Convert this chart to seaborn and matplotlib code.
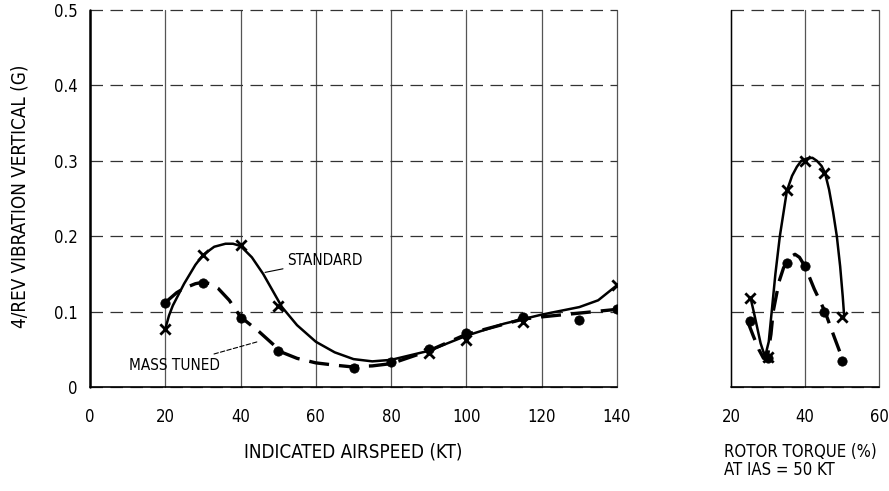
import matplotlib
matplotlib.use("Agg")
import matplotlib.pyplot as plt
import seaborn as sns
import pandas as pd

# ---- data ----
ias_std = [20, 30, 40, 50, 90, 100, 115, 140]
std_vals = [0.077, 0.175, 0.188, 0.108, 0.045, 0.062, 0.086, 0.135]
ias_mt = [20, 30, 40, 50, 70, 80, 90, 100, 115, 130, 140]
mt_vals = [0.112, 0.138, 0.091, 0.048, 0.025, 0.033, 0.050, 0.072, 0.093, 0.089, 0.103]

std_curve_x = [20, 21, 22, 25, 28, 30, 33, 36, 38, 40, 43, 46, 51, 55, 60, 65, 70, 75, 80, 90, 100, 110, 120, 130, 135, 140]
std_curve_y = [0.077, 0.095, 0.108, 0.137, 0.162, 0.175, 0.186, 0.190, 0.190, 0.187, 0.172, 0.150, 0.106, 0.082, 0.060, 0.046, 0.037, 0.034, 0.036, 0.048, 0.068, 0.084, 0.096, 0.106, 0.115, 0.135]
mt_curve_x = [20, 23, 25, 28, 30, 32, 34, 37, 40, 45, 51, 55, 60, 65, 69, 75, 80, 90, 100, 115, 120, 130, 140]
mt_curve_y = [0.112, 0.125, 0.131, 0.137, 0.139, 0.137, 0.131, 0.115, 0.093, 0.073, 0.046, 0.038, 0.032, 0.029, 0.027, 0.028, 0.031, 0.048, 0.070, 0.090, 0.093, 0.098, 0.103]

torque = [25, 30, 35, 40, 45, 50]
tq_std = [0.118, 0.040, 0.261, 0.300, 0.284, 0.093]
tq_mt = [0.087, 0.038, 0.164, 0.160, 0.100, 0.034]

tq_std_curve_x = [25.3, 26.5, 28, 29.2, 30.2, 31, 32, 33.2, 35.1, 36.5, 37.8, 39, 40.5, 42, 43.2, 44.5, 45.4, 46.5, 47.6, 48.6, 49.5, 50.2, 50.6]
tq_std_curve_y = [0.118, 0.092, 0.058, 0.040, 0.060, 0.100, 0.150, 0.200, 0.260, 0.280, 0.292, 0.300, 0.303, 0.304, 0.300, 0.293, 0.284, 0.262, 0.232, 0.200, 0.160, 0.120, 0.093]
tq_mt_curve_x = [24.5, 26, 27.5, 28.8, 30, 30.8, 31.4, 33, 34.2, 35.1, 36.2, 37.3, 38.5, 40, 42.5, 45.4, 48, 50.3]
tq_mt_curve_y = [0.087, 0.068, 0.050, 0.038, 0.045, 0.070, 0.100, 0.140, 0.158, 0.166, 0.173, 0.176, 0.172, 0.160, 0.130, 0.100, 0.065, 0.035]

left_xticks = [0, 20, 40, 60, 80, 100, 120, 140]
right_xticks = [20, 40, 60]
yticks = [0, 0.1, 0.2, 0.3, 0.4, 0.5]
ytick_labels = ["0", "0.1", "0.2", "0.3", "0.4", "0.5"]

sns.set_theme(style="white")
plt.rcParams['font.family'] = ['DejaVu Sans']
plt.rcParams['font.stretch'] = 'condensed'
plt.rcParams['text.color'] = 'black'
plt.rcParams['xtick.color'] = 'black'
plt.rcParams['ytick.color'] = 'black'

fig = plt.figure(figsize=(8.89, 4.91), dpi=100)
ax1 = fig.add_axes([90/889, 1-387/491, (617-90)/889, (387-10)/491])
ax2 = fig.add_axes([731/889, 1-387/491, (879-731)/889, (387-10)/491])

lw = 1.8
mt_dash = (6, 3)

def style(ax, xt, xlim, show_y):
    ax.set_xlim(*xlim)
    ax.set_ylim(0, 0.5)
    ax.set_xticks(xt)
    ax.set_xticklabels([str(v) for v in xt], fontsize=12)
    ax.set_yticks(yticks)
    if show_y:
        ax.set_yticklabels(ytick_labels, fontsize=12)
    else:
        ax.set_yticklabels([])
    ax.tick_params(length=0, pad=15, axis='x')
    ax.tick_params(length=0, pad=9, axis='y')
    for v in xt:
        ax.axvline(v, color='#555555', lw=0.9, zorder=1, clip_on=False)
    for v in yticks:
        ax.axhline(v, color='#333333', lw=0.9, ls=(0, (10, 6)), zorder=1, clip_on=False)
    for s in ax.spines.values():
        s.set_visible(False)
    ax.axvline(xlim[0], color='black', lw=1.8 if show_y else 1.0, zorder=2, clip_on=False)
    ax.axhline(0, color='black', lw=1.2, zorder=2, clip_on=False)
    ax.set_xlabel("")
    ax.set_ylabel("")

# Left panel
sns.lineplot(x=std_curve_x, y=std_curve_y, ax=ax1, color='black', lw=lw, sort=False, estimator=None, zorder=3)
sns.lineplot(x=mt_curve_x, y=mt_curve_y, ax=ax1, color='black', lw=lw + 0.6, sort=False, estimator=None, zorder=3).lines[-1].set_dashes(mt_dash)
sns.scatterplot(x=ias_std, y=std_vals, ax=ax1, marker='x', s=55, color='black', linewidth=2, zorder=4)
sns.scatterplot(x=ias_mt, y=mt_vals, ax=ax1, marker='o', s=45, color='black', edgecolor='black', zorder=4)
style(ax1, left_xticks, (0, 140), True)

ax1.annotate("STANDARD", xy=(46.5, 0.152), xytext=(52.5, 0.168), fontsize=11, va='center', ha='left',
             arrowprops=dict(arrowstyle='-', color='black', lw=0.8, shrinkA=1, shrinkB=0))
ax1.annotate("MASS TUNED", xy=(44.5, 0.060), xytext=(34.5, 0.029), fontsize=11, va='center', ha='right',
             arrowprops=dict(arrowstyle='-', color='black', lw=0.8, ls=(0, (4, 2)), shrinkA=1, shrinkB=0))

# Right panel
sns.lineplot(x=tq_std_curve_x, y=tq_std_curve_y, ax=ax2, color='black', lw=lw, sort=False, estimator=None, zorder=3)
sns.lineplot(x=tq_mt_curve_x, y=tq_mt_curve_y, ax=ax2, color='black', lw=lw + 0.6, sort=False, estimator=None, zorder=3).lines[-1].set_dashes(mt_dash)
sns.scatterplot(x=torque, y=tq_std, ax=ax2, marker='x', s=55, color='black', linewidth=2, zorder=4)
sns.scatterplot(x=torque, y=tq_mt, ax=ax2, marker='o', s=45, color='black', edgecolor='black', zorder=4)
style(ax2, right_xticks, (20, 60), False)

fig.text(20/889, 1-196/491, "4/REV VIBRATION VERTICAL (G)", rotation=90, ha='center', va='center', fontsize=13.5)
fig.text(353/889, 1-452/491, "INDICATED AIRSPEED (KT)", ha='center', va='center', fontsize=13.5)
fig.text(724/889, 1-452/491, "ROTOR TORQUE (%)", ha='left', va='center', fontsize=12)
fig.text(724/889, 1-470/491, "AT IAS = 50 KT", ha='left', va='center', fontsize=12)

fig.savefig("out.png", dpi=100)
